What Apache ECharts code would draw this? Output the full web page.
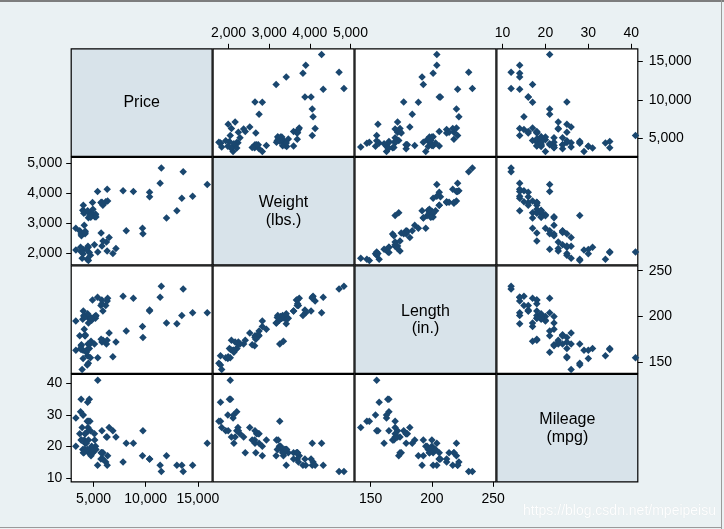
<!DOCTYPE html>
<html>
<head>
<meta charset="utf-8">
<script src="https://cdn.jsdelivr.net/npm/echarts@6/dist/echarts.min.js"></script>
<style>
html,body{margin:0;padding:0;background:#eaf1f3;}
#c{width:724px;height:529px;}
</style>
</head>
<body>
<div id="c"></div>
<script>
// 1978 automobile data (74 cars)
const price = [4099,4749,3799,4816,7827,5788,4453,5189,10372,4082,11385,14500,15906,3299,5705,4504,5104,3667,3955,3984,4010,5886,6342,4389,4187,11497,13594,13466,3829,5379,6165,4516,6303,3291,8814,5172,4733,4890,4181,4195,10371,4647,4425,4482,6486,4060,5798,4934,5222,4723,4424,4172,9690,6295,9735,6229,4589,5079,8129,4296,5799,4499,3995,12990,3895,3798,5899,3748,5719,7140,5397,4697,6850,11995];
const mpg = [22,17,22,20,15,18,26,20,16,19,14,14,21,29,16,22,22,24,19,30,18,16,17,28,21,12,12,14,22,14,15,18,14,20,21,19,19,18,19,24,16,28,34,25,26,18,18,18,19,19,19,24,17,23,25,23,35,24,21,21,25,28,30,14,26,35,18,31,18,23,41,25,25,17];
const weight = [2930,3350,2640,3250,4080,3670,2230,3280,3880,3400,4330,3900,4290,2110,3690,3180,3220,2750,3430,2120,3600,3600,3740,1800,2650,4840,4720,3830,2580,4060,3720,3370,4130,2830,4060,3310,3300,3690,3370,2730,4030,3260,1800,2200,2520,3330,3700,3470,3210,3200,3420,2690,2830,2070,2650,2370,2020,2280,2750,2130,2240,1760,1980,3420,1830,2050,2410,2200,2670,2160,2040,1930,1990,3170];
const length = [186,173,168,196,222,218,170,200,207,200,221,204,204,163,212,193,200,179,197,163,206,206,220,147,179,233,230,201,169,221,212,198,217,195,220,198,198,218,200,180,206,170,157,165,182,201,214,198,201,199,203,179,189,174,177,170,165,170,184,161,172,149,154,192,142,164,174,165,175,172,155,155,156,193];

const varNames = ["Price", "Weight\n(lbs.)", "Length\n(in.)", "Mileage\n(mpg)"];
const priceTicks = [5000, 10000, 15000];
const weightTicks = [2000, 3000, 4000, 5000];
const lengthTicks = [150, 200, 250];
const mpgTicks = [10, 20, 30, 40];

// axis extents (horizontal / vertical)
const xRange = [[2848, 16371], [1618, 5088], [137.3, 252.2], [8.69, 41.54]];
const yRange = [[2683, 16634], [1613, 5199], [137.9, 255.4], [8.74, 42.9]];

const vars = [price, weight, length, mpg];
const ticks = [priceTicks, weightTicks, lengthTicks, mpgTicks];

const X0 = 70.7, CW = 141.9, Y0 = 48.3, CH = 108.5;
const NAVY = '#1a476f';
const FONT = 'Liberation Sans, Arial, sans-serif';
const fmt = v => Number(v).toLocaleString('en-US');

const grids = [], xAxes = [], yAxes = [], series = [], graphics = [];

function hiddenAxis(extra) {
  return Object.assign({
    type: 'value', splitLine: {show: false},
    axisLine: {show: false}, axisTick: {show: false}, axisLabel: {show: false}
  }, extra);
}
function shownAxis(extra, tv, margin) {
  return Object.assign({
    type: 'value', splitLine: {show: false},
    axisLine: {show: false},
    axisTick: {show: true, inside: false, length: 5, customValues: tv, lineStyle: {color: '#000', width: 1}},
    axisLabel: {show: true, customValues: tv, formatter: fmt, color: '#000', fontSize: 14, fontFamily: FONT, margin: margin}
  }, extra);
}

for (let r = 0; r < 4; r++) {
  for (let c = 0; c < 4; c++) {
    const idx = grids.length;
    const diag = r === c;
    grids.push({
      left: X0 + c * CW + 0.5, top: Y0 + r * CH + 0.5,
      width: CW - 1, height: CH - 1,
      show: true, borderColor: '#000', borderWidth: 1.2,
      backgroundColor: diag ? '#d8e3ea' : '#ffffff'
    });
    let xa;
    const xr = {min: xRange[c][0], max: xRange[c][1], gridIndex: idx};
    if (r === 0 && (c === 1 || c === 3)) {
      xa = shownAxis(Object.assign(xr, {position: 'top'}), ticks[c], 9);
    } else if (r === 3 && (c === 0 || c === 2)) {
      xa = shownAxis(Object.assign(xr, {position: 'bottom'}), ticks[c], 10);
    } else {
      xa = hiddenAxis(xr);
    }
    xAxes.push(xa);
    let ya;
    const yr = {min: yRange[r][0], max: yRange[r][1], gridIndex: idx};
    if (c === 0 && (r === 1 || r === 3)) {
      ya = shownAxis(Object.assign(yr, {position: 'left'}), ticks[r], 9);
    } else if (c === 3 && (r === 0 || r === 2)) {
      ya = shownAxis(Object.assign(yr, {position: 'right'}), ticks[r], 11);
    } else {
      ya = hiddenAxis(yr);
    }
    yAxes.push(ya);

    if (diag) {
      graphics.push({
        type: 'text', z: 100,
        x: X0 + c * CW + CW / 2, y: Y0 + r * CH + CH / 2 + 0.5,
        style: {
          text: varNames[r], fill: '#000', font: '16px ' + FONT,
          align: 'center', verticalAlign: 'middle', lineHeight: 17.5
        }
      });
    } else {
      const xs = vars[c], ys = vars[r];
      series.push({
        type: 'scatter', xAxisIndex: idx, yAxisIndex: idx,
        symbol: 'diamond', symbolSize: 7.5,
        itemStyle: {color: NAVY, opacity: 1},
        silent: true, animation: false,
        data: xs.map((v, i) => [v, ys[i]])
      });
    }
  }
}

// screenshot frame & watermark
graphics.push({type: 'rect', shape: {x: 0, y: 0, width: 724, height: 2}, style: {fill: '#7d7d7d'}, z: 200});
graphics.push({type: 'rect', shape: {x: 721, y: 0, width: 1, height: 529}, style: {fill: '#9a9a9a'}, z: 200});
graphics.push({type: 'rect', shape: {x: 0, y: 527, width: 722, height: 1}, style: {fill: '#9a9a9a'}, z: 200});
graphics.push({
  type: 'text', z: 150, x: 716, y: 511,
  style: {
    text: 'https://blog.csdn.net/mpeipeisu', font: '14px ' + FONT,
    fill: 'rgba(255,255,255,0.95)', align: 'right', verticalAlign: 'middle',
    textShadowColor: 'rgba(0,0,0,0.08)', textShadowBlur: 1
  }
});

const chart = echarts.init(document.getElementById('c'), null, {renderer: 'canvas'});
chart.setOption({
  backgroundColor: '#eaf1f3',
  animation: false,
  grid: grids,
  xAxis: xAxes,
  yAxis: yAxes,
  series: series,
  graphic: graphics
});
</script>
</body>
</html>
